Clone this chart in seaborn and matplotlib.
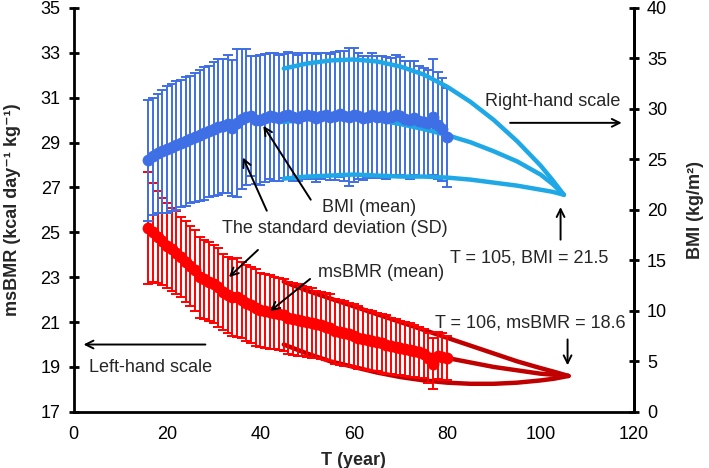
import numpy as np
import pandas as pd
import seaborn as sns
import matplotlib.pyplot as plt

# ages with measured means / SDs
ages = list(range(16, 81))

# msBMR (kcal day-1 kg-1), left-hand scale
bmr_mean = [25.2, 25.0, 24.8, 24.6, 24.4, 24.25, 24.1, 23.9, 23.7, 23.5,
            23.3, 23.0, 22.9, 22.8, 22.7, 22.55, 22.35, 22.2, 22.1, 22.1,
            22.0, 21.85, 21.75, 21.65, 21.55, 21.5, 21.45, 21.4, 21.35, 21.3,
            21.2, 21.15, 21.1, 21.05, 21.0, 20.95, 20.9, 20.85, 20.8, 20.75,
            20.6, 20.55, 20.5, 20.45, 20.4, 20.3, 20.25, 20.2, 20.15, 20.1,
            20.05, 20.0, 19.95, 19.9, 19.85, 19.8, 19.75, 19.7, 19.65, 19.6,
            19.4, 19.15, 19.5, 19.45, 19.4]
bmr_sd = [2.5, 2.2, 2.05, 1.95, 1.9, 1.85, 1.85, 1.8, 1.8, 1.8,
          1.8, 1.8, 1.75, 1.75, 1.75, 1.75, 1.7, 1.7, 1.7, 1.75,
          1.7, 1.7, 1.7, 1.7, 1.65, 1.65, 1.65, 1.6, 1.6, 1.6,
          1.6, 1.6, 1.6, 1.55, 1.55, 1.55, 1.5, 1.5, 1.5, 1.5,
          1.45, 1.45, 1.45, 1.4, 1.4, 1.4, 1.35, 1.35, 1.35, 1.3,
          1.3, 1.3, 1.25, 1.25, 1.2, 1.2, 1.2, 1.15, 1.15, 1.1,
          1.1, 1.15, 1.05, 1.05, 1.0]

# BMI (kg/m2), right-hand scale
bmi_mean = [24.9, 25.3, 25.6, 25.8, 26.0, 26.2, 26.4, 26.6, 26.8, 27.0,
            27.2, 27.4, 27.6, 27.8, 28.0, 28.2, 28.3, 28.5, 28.1, 28.6,
            29.0, 29.2, 29.3, 28.9, 28.9, 29.1, 29.3, 29.2, 29.1, 29.3,
            29.4, 29.2, 29.1, 29.3, 29.4, 29.3, 29.1, 29.3, 29.4, 29.2,
            29.3, 29.5, 29.3, 29.2, 29.4, 29.3, 29.1, 29.2, 29.4, 29.2,
            29.3, 29.1, 29.2, 29.4, 29.3, 29.0, 28.9, 29.1, 28.8, 28.7,
            28.6, 29.2, 28.4, 28.0, 27.2]
bmi_sd = [6.0, 5.8, 5.9, 6.1, 6.3, 6.3, 6.4, 6.3, 6.4, 6.3,
          6.4, 6.5, 6.6, 6.5, 6.6, 6.7, 6.6, 6.8, 6.7, 7.3,
          6.9, 6.7, 5.9, 6.3, 6.4, 6.3, 6.2, 6.3, 6.2, 6.1,
          6.2, 6.3, 6.2, 6.2, 6.1, 6.2, 6.3, 6.2, 6.1, 6.2,
          6.3, 6.2, 6.4, 6.8, 6.6, 6.2, 6.1, 6.0, 6.1, 6.0,
          5.9, 6.0, 5.8, 5.9, 5.8, 5.7, 5.8, 5.6, 5.5, 5.4,
          5.3, 5.7, 5.3, 5.1, 4.9]

# fitted curves
fit_t_bmr = [45, 50, 55, 60, 65, 70, 75, 80, 85, 90, 95, 100, 103, 106]
bmr_fit_upper = [22.8, 22.4, 22.05, 21.7, 21.35, 21.0, 20.65, 20.3, 19.95, 19.6, 19.25, 18.95, 18.78, 18.6]
bmr_fit_mean = [21.4, 21.0, 20.65, 20.35, 20.05, 19.8, 19.6, 19.4, 19.2, 19.0, 18.85, 18.7, 18.65, 18.6]
bmr_fit_lower = [20.0, 19.6, 19.25, 19.0, 18.75, 18.55, 18.4, 18.3, 18.25, 18.25, 18.3, 18.4, 18.48, 18.6]

fit_t_bmi = [45, 50, 55, 60, 65, 70, 75, 80, 85, 90, 95, 100, 102.5, 105]
bmi_fit_upper = [34.0, 34.5, 34.8, 34.9, 34.7, 34.2, 33.4, 32.2, 30.7, 28.9, 26.8, 24.4, 23.0, 21.5]
bmi_fit_mean = [28.7, 29.0, 29.1, 29.1, 28.9, 28.5, 28.0, 27.4, 26.7, 25.8, 24.8, 23.5, 22.6, 21.5]
bmi_fit_lower = [23.1, 23.3, 23.4, 23.5, 23.4, 23.3, 23.3, 23.2, 23.0, 22.7, 22.4, 22.0, 21.8, 21.5]

RED = "#ff0000"
DARKRED = "#c00000"
BLUE = "#3f6fe4"
LIGHTBLUE = "#1fa8e6"

sns.set_style("white")
plt.rcParams['font.family'] = ['Liberation Sans', 'DejaVu Sans']
plt.rcParams['font.size'] = 13

fig, ax = plt.subplots(figsize=(7.09, 4.68), dpi=100)
fig.subplots_adjust(left=0.104, right=0.894, bottom=0.12, top=0.983)
ax2 = ax.twinx()

# left-hand: msBMR (fits drawn under the data)
for yy in [bmr_fit_upper, bmr_fit_mean, bmr_fit_lower]:
    sns.lineplot(x=fit_t_bmr, y=yy, ax=ax, color=DARKRED, linewidth=3.2, zorder=1)
ax.errorbar(ages, bmr_mean, yerr=bmr_sd, fmt='none', ecolor=RED,
            elinewidth=1.4, capsize=3.5, capthick=1.4, zorder=2)
sns.lineplot(x=ages, y=bmr_mean, ax=ax, color=RED, marker='o', markersize=8.5,
             markeredgewidth=0, linewidth=4, zorder=3)

# right-hand: BMI
ax2.errorbar(ages, bmi_mean, yerr=bmi_sd, fmt='none', ecolor=BLUE,
             elinewidth=1.4, capsize=3.5, capthick=1.4, zorder=1)
for yy in [bmi_fit_upper, bmi_fit_mean, bmi_fit_lower]:
    sns.lineplot(x=fit_t_bmi, y=yy, ax=ax2, color=LIGHTBLUE, linewidth=3.2, zorder=2)
sns.lineplot(x=ages, y=bmi_mean, ax=ax2, color=BLUE, marker='o', markersize=8.5,
             markeredgewidth=0, linewidth=4, zorder=3)

ax.set_xlim(0, 120)
ax.set_ylim(17, 35)
ax2.set_ylim(0, 40)
ax.set_xticks(range(0, 121, 20))
ax.set_yticks(range(17, 36, 2))
ax2.set_yticks(range(0, 41, 5))

ax.set_xlabel("T (year)", fontweight='bold', fontsize=13, labelpad=6)
ax.set_ylabel("msBMR (kcal day\u207b\u00b9 kg\u207b\u00b9)", fontweight='bold',
              fontsize=13, labelpad=14)
ax2.set_ylabel("BMI (kg/m\u00b2)", fontweight='bold', fontsize=13, labelpad=14)

for a in (ax, ax2):
    a.spines['top'].set_visible(False)
    for s in a.spines.values():
        s.set_linewidth(2)
        s.set_color('black')
    a.tick_params(direction='inout', length=7, width=2, labelsize=13,
                  colors='black', pad=6)
ax.tick_params(axis='x', pad=7)
ax2.spines['left'].set_visible(False)
ax2.spines['bottom'].set_visible(False)

# annotations (in msBMR/left-hand coordinates, drawn on top)
arr = dict(arrowstyle='->', color='black', lw=1.4, mutation_scale=14)
kw = dict(xycoords=ax.transData, textcoords=ax.transData)

def note(xy, xytext):
    ax2.annotate("", xy=xy, xytext=xytext, arrowprops=arr, **kw)

def label(x, y, s):
    ax2.text(x, y, s, transform=ax.transData, va='center', ha='left')

label(53.2, 26.1, "BMI (mean)")
note((40.3, 29.85), (51.1, 26.35))
label(31.8, 25.15, "The standard deviation (SD)")
note((36.0, 28.45), (41.6, 25.85))
note((32.8, 22.92), (39.9, 24.3))
label(52.4, 23.2, "msBMR (mean)")
note((41.6, 21.41), (51.1, 23.0))
label(3.2, 18.96, "Left-hand scale")
note((1.5, 20.0), (28.8, 20.0))
label(88.2, 30.81, "Right-hand scale")
note((118.0, 29.88), (92.9, 29.88))
label(80.7, 23.86, "T = 105, BMI = 21.5")
note((104.3, 26.25), (104.3, 24.55))
label(77.5, 20.96, "T = 106, msBMR = 18.6")
note((105.8, 18.95), (105.8, 20.35))

fig.savefig("out.png", dpi=100)
